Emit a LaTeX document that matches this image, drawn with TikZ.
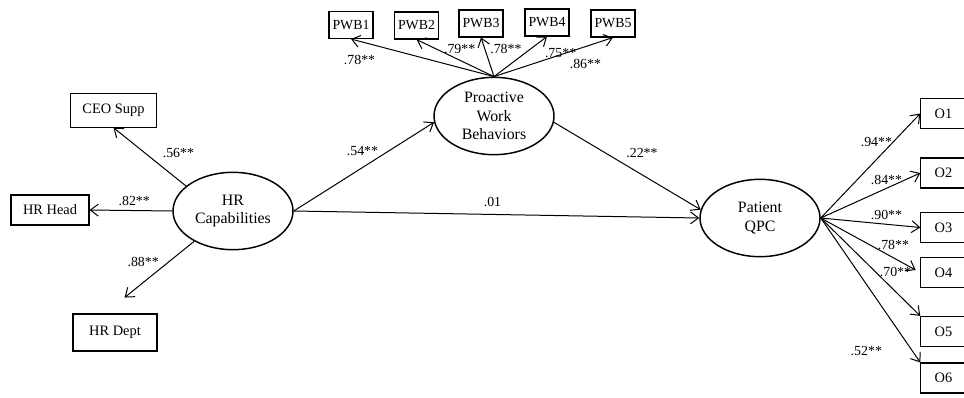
\documentclass[tikz,border=0pt]{standalone}
\usepackage{fontspec}
\setmainfont{Liberation Serif}
\usetikzlibrary{arrows.meta,positioning,shapes.geometric}

\begin{document}
\begin{tikzpicture}[x=0.75pt,y=-0.75pt,
  font=\fontsize{10.8}{13.5}\selectfont,
  ind/.style={draw, line width=0.8pt, inner sep=1pt, minimum width=33pt, minimum height=20.25pt},
  latent/.style={ellipse, draw, line width=1.1pt, inner sep=0pt, font=\fontsize{11.9}{14}\selectfont,
                 minimum width=90pt, minimum height=58pt, align=center},
  arr/.style={-{Straight Barb[length=6pt,width=9pt]}, line width=0.75pt},
  lbl/.style={inner sep=0pt, font=\fontsize{10.4}{12}\selectfont}
]
\useasboundingbox (0,0) rectangle (964,397);

\node[ind, minimum width=65pt, minimum height=25pt] (ceo)    at (113.5,110.5) {CEO Supp};
\node[ind, minimum width=58.5pt, minimum height=22.5pt] (hrhead) at (50,210) {HR Head};
\node[ind, minimum width=63pt, minimum height=27.75pt] (hrdept) at (115,332.5) {HR Dept};

\node[latent] (hrcap) at (233,211) {HR\\Capabilities};
\node[latent] (pwb)   at (494,116) {Proactive\\Work\\Behaviors};
\node[latent] (qpc)   at (760,218) {Patient\\QPC};

\node[ind, font=\fontsize{10.4}{12}\selectfont] (pwb1) at (351,25)   {PWB1};
\node[ind, font=\fontsize{10.4}{12}\selectfont] (pwb2) at (416.5,25.5) {PWB2};
\node[ind, font=\fontsize{10.4}{12}\selectfont] (pwb3) at (481,23.5) {PWB3};
\node[ind, font=\fontsize{10.4}{12}\selectfont] (pwb4) at (547,22.5) {PWB4};
\node[ind, font=\fontsize{10.4}{12}\selectfont] (pwb5) at (613,23.5) {PWB5};

\node[ind, minimum width=34pt, minimum height=22.5pt] (o1) at (943.5,113.5) {O1};
\node[ind, minimum width=34pt, minimum height=22.5pt] (o2) at (943.5,173)   {O2};
\node[ind, minimum width=34pt, minimum height=22.5pt] (o3) at (943.5,227.5) {O3};
\node[ind, minimum width=34pt, minimum height=22.5pt] (o4) at (943.5,272.5) {O4};
\node[ind, minimum width=34pt, minimum height=22.5pt] (o5) at (943.5,331.5) {O5};
\node[ind, minimum width=34pt, minimum height=22.5pt] (o6) at (943.5,378)   {O6};

\draw[arr] (hrcap.152) -- node[lbl, pos=0.56, shift={(33,0)}] (w56) {.56**} (ceo.south);
\draw[arr] (hrcap.west) -- node[lbl, pos=0.46, shift={(0,-10)}] (w82) {.82**} (hrhead.east);
\draw[arr, shorten >=19pt] (hrcap.218) -- node[lbl, pos=0.28, shift={(-26,0)}] (w88) {.88**} (hrdept.118);

\draw[arr] (hrcap.east) -- node[lbl, pos=0.49, shift={(0,-17)}] (w54) {.54**} (pwb.186);
\draw[arr] (hrcap.east) -- node[lbl, pos=0.49, shift={(0,-12)}] (w01) {.01} (qpc.west);
\draw[arr] (pwb.-6) -- node[lbl, pos=0.6, shift={(0,-22)}] (w22) {.22**} (qpc.172);

\draw[arr] (pwb.north) -- node[lbl, pos=0.94, shift={(0,19)}] (w78a) {.78**} (pwb1.south);
\draw[arr] (pwb.north) -- node[lbl, pos=0.74, shift={(23,0)}] (w79) {.79**} (pwb2.south);
\draw[arr] (pwb.north) -- node[lbl, pos=0.7, shift={(21,0)}] (w78b) {.78**} (pwb3.south);
\draw[arr] (pwb.north) -- node[lbl, pos=0.54, shift={(38,-2)}] (w75) {.75**} (pwb4.south);
\draw[arr] (pwb.north) -- node[lbl, pos=0.76, shift={(1,17)}] (w86) {.86**} (pwb5.south);

\draw[arr] (qpc.east) -- node[lbl, pos=0.73, shift={(-17,0)}] (w94) {.94**} (o1.west);
\draw[arr] (qpc.east) -- node[lbl, pos=0.66, shift={(0,-8.5)}] (w84) {.84**} (o2.west);
\draw[arr] (qpc.east) -- node[lbl, pos=0.66, shift={(0,-9)}] (w90) {.90**} (o3.west);
\draw[arr, shorten >=4pt] (qpc.east) -- node[lbl, pos=0.73, shift={(0,-13)}] (w78c) {.78**} (o4.west);
\draw[arr] (qpc.east) -- node[lbl, pos=0.55, shift={(20,0)}] (w70) {.70**} (o5.north west);
\draw[arr] (qpc.east) -- node[lbl, pos=0.92, shift={(-46,0)}] (w52) {.52**} (o6.north west);
\end{tikzpicture}
\end{document}
